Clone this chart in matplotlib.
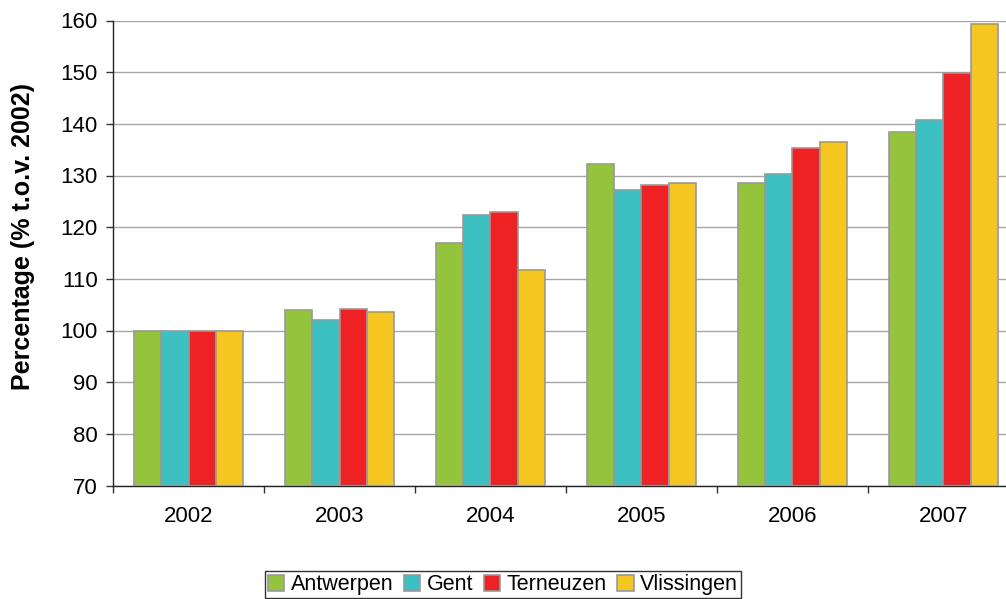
import matplotlib
matplotlib.use("Agg")
import matplotlib.pyplot as plt
import numpy as np

plt.rcParams['font.family'] = ['Liberation Sans', 'DejaVu Sans']

years = ["2002", "2003", "2004", "2005", "2006", "2007"]
series_names = ["Antwerpen", "Gent", "Terneuzen", "Vlissingen"]
antwerpen = [100.0, 104.0, 116.9, 132.2, 128.5, 138.4]
gent = [100.0, 102.0, 122.4, 127.1, 130.2, 140.7]
terneuzen = [100.0, 104.2, 123.0, 128.2, 135.4, 149.9]
vlissingen = [100.0, 103.5, 111.8, 128.5, 136.4, 159.3]
colors = ["#94C33C", "#3CC0C1", "#EE2225", "#F5C620"]

W, H = 1006, 599
fig = plt.figure(figsize=(W / 100, H / 100), dpi=100)
ax = fig.add_axes([113 / W, 1 - 485.5 / H, 906 / W, 465 / H])

x = np.arange(len(years))
bw = 0.182
data = [antwerpen, gent, terneuzen, vlissingen]
for i, (name, vals, c) in enumerate(zip(series_names, data, colors)):
    ax.bar(x + (i - 1.5) * bw, np.array(vals) - 70, bottom=70, width=bw,
           color=c, edgecolor="#999999", linewidth=1.2, label=name, zorder=3)

ax.set_xlim(-0.5, len(years) - 0.5)
ax.set_ylim(70, 160)
ax.set_yticks(np.arange(70, 161, 10))
ax.yaxis.grid(True, color="#A6A6A6", linewidth=1.0, zorder=0)
ax.set_axisbelow(True)

ax.set_xticks(np.arange(-0.5, len(years), 1.0), minor=False)
ax.set_xticklabels([])
ax.set_xticks(x, minor=True)
ax.set_xticklabels(years, minor=True)
ax.tick_params(axis='x', which='major', length=5, width=1, direction='out', color="#333333")
ax.tick_params(axis='x', which='minor', length=0, pad=15, labelsize=16)
ax.tick_params(axis='y', length=5, width=1, direction='out', labelsize=16, pad=6, color="#333333")

for s in ["top", "right"]:
    ax.spines[s].set_visible(False)
for s in ["left", "bottom"]:
    ax.spines[s].set_color("#222222")
    ax.spines[s].set_linewidth(1.0)

ax.set_ylabel("Percentage (% t.o.v. 2002)", fontsize=18, fontweight='bold', labelpad=18)
ax.yaxis.label.set_y(0.535)

leg = fig.legend(loc="upper center", bbox_to_anchor=(503 / W, 1 - 571 / H), ncol=4,
                 frameon=True, fancybox=False, edgecolor="black", fontsize=15.5,
                 handlelength=0.75, handleheight=0.75, handletextpad=0.3,
                 columnspacing=0.5, borderpad=0.15, borderaxespad=0)
leg.get_frame().set_linewidth(1.0)

fig.savefig("out.png", dpi=100)
